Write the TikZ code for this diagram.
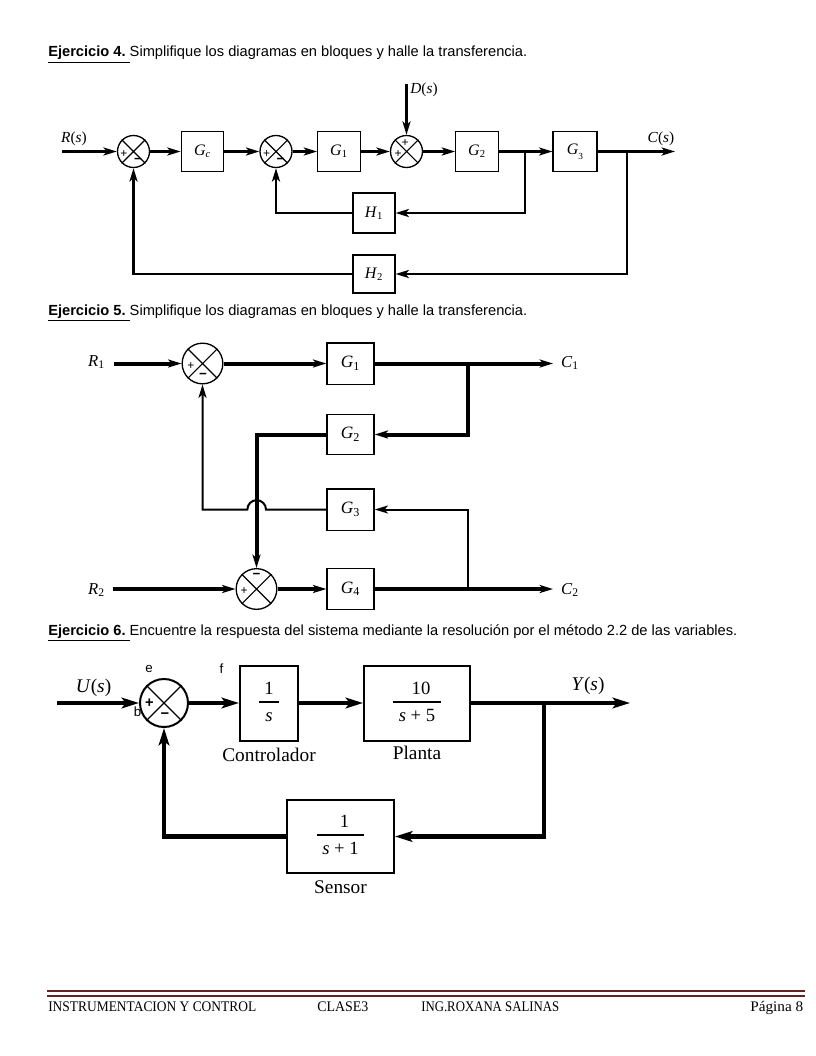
\documentclass[tikz,border=0pt]{standalone}
\usepackage{fontspec}
\setmainfont{Liberation Serif}
\setsansfont{Liberation Sans}
\usepackage{graphicx}
\usetikzlibrary{arrows.meta}
\definecolor{footred}{HTML}{622423}
\newcommand\Gl[2]{\textit{#1}\textsubscript{#2}}
\newcommand\frc[2]{{\setlength\arrayrulewidth{1.3pt}\begin{tabular}{@{\hspace{4pt}}c@{\hspace{4pt}}}#1\\[0pt]\hline\rule{0pt}{14pt}#2\end{tabular}}}
\tikzset{
  every node/.style={inner sep=0pt},
  arrA/.style={-{Stealth[length=10pt,width=6pt,inset=2.5pt]}},
  arrC/.style={-{Stealth[length=13pt,width=8pt,inset=3pt]}},
  lnA/.style={line width=2.2pt},
  lnB/.style={line width=3pt},
  thinB/.style={line width=1.5pt},
  lnC/.style={line width=3.7pt},
  boxA/.style={draw,line width=0.8pt,minimum width=32pt,minimum height=30.5pt,font=\fontsize{12}{14}\selectfont},
  boxB/.style={draw,line width=1pt,minimum width=35.25pt,minimum height=31pt,font=\fontsize{13}{15}\selectfont},
  boxC/.style={draw,line width=1.5pt,font=\fontsize{14}{16}\selectfont},
  sumA/.style={circle,draw,line width=1pt,minimum size=24pt},
  sumB/.style={circle,draw,line width=1pt,minimum size=30.5pt},
  sumC/.style={circle,draw,line width=1.5pt,minimum size=36pt},
  sgn/.style={font=\sffamily\fontsize{9}{10}\selectfont},
  sgnm/.style={font=\sffamily\bfseries\fontsize{10}{10}\selectfont},
  sgnC/.style={font=\sffamily\bfseries\fontsize{11}{11}\selectfont},
  lbl/.style={font=\fontsize{11.5}{13}\selectfont},
  lblB/.style={font=\fontsize{12.5}{14}\selectfont},
  lblC/.style={font=\fontsize{14.5}{16}\selectfont},
  head/.style={anchor=base west,font=\sffamily\fontsize{11}{13}\selectfont},
  foot/.style={anchor=base west,font=\fontsize{11}{13}\selectfont},
  tag/.style={font=\sffamily\fontsize{10}{12}\selectfont},
}
\begin{document}
\begin{tikzpicture}[x=0.75pt,y=-0.75pt]
\useasboundingbox (0,0) rectangle (816,1056);
\fill[white] (0,0) rectangle (816,1056);

% ---------- headings
\node[head] (h4) at (48,57) {\resizebox{359.25pt}{\height}{\underline{\textbf{Ejercicio 4.}\ }Simplifique los diagramas en bloques y halle la transferencia.}};
\node[head] (h5) at (48,315.5) {\resizebox{359.25pt}{\height}{\underline{\textbf{Ejercicio 5.}\ }Simplifique los diagramas en bloques y halle la transferencia.}};
\node[head] (h6) at (48,635.5) {\resizebox{516.75pt}{\height}{\underline{\textbf{Ejercicio 6.}\ }Encuentre la respuesta del sistema mediante la resolución por el método 2.2 de las variables.}};

% ---------- diagram 1
\node[sumA] (s1) at (133.5,151.5) {};
\node[sumA] (s2) at (276,151.5) {};
\node[sumA] (s3) at (406.5,151.5) {};
\foreach \s in {s1,s2,s3}{\draw[line width=0.8pt] (\s.north east)--(\s.south west) (\s.north west)--(\s.south east);}
\node[boxA] (Gc) at (202.5,151.5) {\Gl{G}{\textit{c}}};
\node[boxA] (G1) at (339,151.5) {\Gl{G}{1}};
\node[boxA] (G2) at (477,151.5) {\Gl{G}{2}};
\node[boxA,minimum width=33pt] (G3) at (575,151.5) {\textit{G}\raisebox{-3.5pt}{\scriptsize 3}};
\node[boxA,minimum width=31.5pt,minimum height=30pt] (H1) at (374,213) {\Gl{H}{1}};
\node[boxA,minimum width=31.5pt,minimum height=28.5pt] (H2) at (374,274) {\Gl{H}{2}};
\node[sgn] (p1) at (124,154) {+};
\node[sgnm] (m1) at (138,160.5) {−};
\node[sgn] (p2) at (266.5,154) {+};
\node[sgnm] (m2) at (280.5,160.5) {−};
\node[sgn] (p3a) at (405,143.5) {+};
\node[sgn] (p3b) at (398,154) {+};
\node[lbl] (Rs) at (74,139) {\textit{R}(\textit{s})};
\node[lbl] (Cs) at (661,139) {\textit{C}(\textit{s})};
\node[lbl] (Ds) at (424,90) {\textit{D}(\textit{s})};
\coordinate (Rin) at (62,151.5);
\coordinate (Cout) at (675,151.5);
\coordinate (Dtop) at (406.5,84);
\coordinate (b1) at (525,151.5);
\coordinate (b2) at (627,151.5);
\draw[lnA,arrA] (Rin) -- (s1.west);
\draw[lnA,arrA] (s1.east) -- (Gc.west);
\draw[lnA,arrA] (Gc.east) -- (s2.west);
\draw[lnA,arrA] (s2.east) -- (G1.west);
\draw[lnA,arrA] (G1.east) -- (s3.west);
\draw[lnA,arrA] (Dtop) -- (s3.north);
\draw[lnA,arrA] (s3.east) -- (G2.west);
\draw[lnA,arrA] (G2.east) -- (G3.west);
\draw[lnA,arrA] (G3.east) -- (Cout);
\draw[lnA,arrA] (b1) |- (H1.east);
\draw[lnA,arrA] (H1.west) -| (s2.south);
\draw[lnA,arrA] (b2) |- (H2.east);
\draw[lnA,arrA] (H2.west) -| (s1.south);

% ---------- diagram 2
\node[sumB] (sA) at (202.5,363.5) {};
\node[sumB] (sB) at (256.5,589) {};
\foreach \s in {sA,sB}{\draw[line width=0.8pt] (\s.north east)--(\s.south west) (\s.north west)--(\s.south east);}
\node[boxB] (B1) at (350.5,363.5) {\Gl{G}{1}};
\node[boxB,minimum height=30pt] (B2) at (350.5,434.5) {\Gl{G}{2}};
\node[boxB] (B3) at (350.5,509.5) {\Gl{G}{3}};
\node[boxB] (B4) at (350.5,589) {\Gl{G}{4}};
\node[sgn] (pA) at (191,366.5) {+};
\node[sgnm] (mA) at (203,375.5) {−};
\node[sgnm] (mB) at (256.5,576) {−};
\node[sgn] (pB) at (244,591) {+};
\node[lblB] (R1) at (96.5,362) {\Gl{R}{1}};
\node[lblB] (R2) at (96.5,590) {\Gl{R}{2}};
\node[lblB] (C1) at (570,363) {\Gl{C}{1}};
\node[lblB] (C2) at (570,590) {\Gl{C}{2}};
\coordinate (R1in) at (114,363.5);
\coordinate (R2in) at (113,589);
\coordinate (C1out) at (553,363.5);
\coordinate (C2out) at (553,589);
\coordinate (b3) at (468,363.5);
\coordinate (b4) at (468,589);
\coordinate (hopR) at (266,509.5);
\coordinate (hopL) at (202.5,509.5);
\draw[lnB,arrA] (R1in) -- (sA.west);
\draw[lnB,arrA] (sA.east) -- (B1.west);
\draw[lnB,arrA] (B1.east) -- (C1out);
\draw[lnB,arrA] (b3) |- (B2.east);
\draw[lnB,arrA] (B2.west) -| (sB.north);
\draw[thinB,arrA] (b4) |- (B3.east);
\draw[thinB,arrA] (B3.west) -- (hopR) arc[start angle=0,end angle=180,radius=7pt] -- (hopL) -- (sA.south);
\draw[lnB,arrA] (R2in) -- (sB.west);
\draw[lnB,arrA] (sB.east) -- (B4.west);
\draw[lnB,arrA] (B4.east) -- (C2out);

% ---------- diagram 3
\node[sumC] (sC) at (164,703) {};
\draw[line width=1pt] (sC.north east)--(sC.south west) (sC.north west)--(sC.south east);
\node[boxC,minimum width=43.5pt,minimum height=56.25pt] (K1) at (269,703.5) {\frc{1}{\textit{s}}};
\node[boxC,minimum width=79.5pt,minimum height=56.25pt] (K2) at (417,703.5) {\frc{\hspace{6pt}10\hspace{6pt}}{\textit{s} + 5}};
\node[boxC,minimum width=80.25pt,minimum height=54.75pt] (K3) at (340.5,836.5) {\frc{\hspace{6pt}1\hspace{6pt}}{\textit{s} + 1}};
\node[sgnC] (pC) at (149.5,703.5) {+};
\node[sgnC] (mC) at (165,716) {−};
\node[tag] (te) at (149,669) {e};
\node[tag] (tf) at (221.5,669) {f};
\node[tag] (tb) at (137.5,711.5) {b};
\node[lblC] (Us) at (93.5,688) {\textit{U}(\textit{s})};
\node[lblC] (Ys) at (588,686) {\textit{Y}(\textit{s})};
\node[lblC,anchor=base] (Lc) at (269,761) {Controlador};
\node[lblC,anchor=base] (Lp) at (417,759) {Planta};
\node[lblC,anchor=base] (Ls) at (340.5,893) {Sensor};
\coordinate (Uin) at (57,703);
\coordinate (Yout) at (630,703);
\coordinate (b5) at (544,703);
\draw[lnC,arrC] (Uin) -- (sC.west);
\draw[lnC,arrC] (sC.east) -- (K1.west |- sC.east);
\draw[lnC,arrC] (K1.east |- sC.east) -- (K2.west |- sC.east);
\draw[lnC,arrC] (K2.east |- sC.east) -- (Yout);
\draw[lnC,arrC] (b5) |- (K3.east);
\draw[lnC,arrC] (K3.west) -| (sC.south);

% ---------- footer
\coordinate (fl) at (47,991);
\coordinate (fr) at (805,991);
\coordinate (fl2) at (47,996);
\coordinate (fr2) at (805,996);
\draw[footred,line width=2.2pt] (fl) -- (fr);
\draw[footred,line width=0.8pt] (fl2) -- (fr2);
\node[foot] (f1) at (48,1011.5) {\resizebox{156pt}{\height}{INSTRUMENTACION Y CONTROL}};
\node[foot] (f2) at (317,1011.5) {\resizebox{38.25pt}{\height}{CLASE3}};
\node[foot] (f3) at (421,1011.5) {\resizebox{103.5pt}{\height}{ING.ROXANA SALINAS}};
\node[foot] (f4) at (750,1011.5) {\resizebox{39.75pt}{\height}{Página 8}};
\end{tikzpicture}
\end{document}
